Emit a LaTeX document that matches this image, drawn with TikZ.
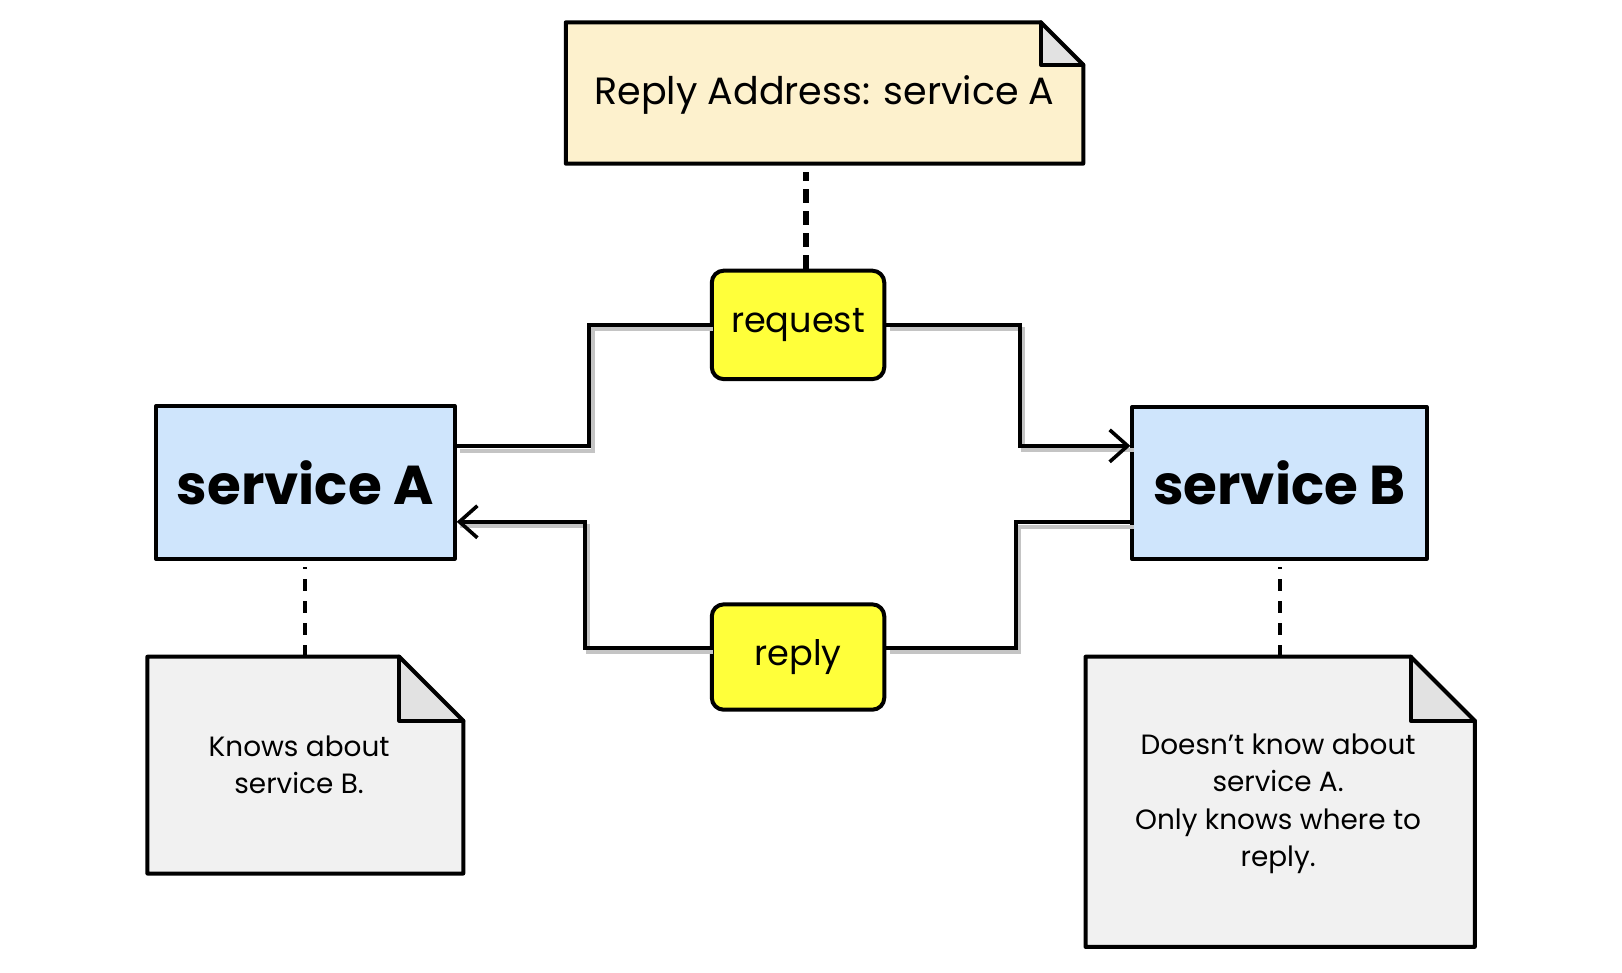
\documentclass[tikz,border=0pt]{standalone}
\usepackage{fontspec}
\setmainfont{Poppins}
\usetikzlibrary{arrows.meta,calc}
\definecolor{cream}{HTML}{FDF1CD}
\definecolor{skyfill}{HTML}{CFE5FC}
\definecolor{yel}{HTML}{FFFF3A}
\definecolor{notefill}{HTML}{F1F1F1}
\definecolor{foldfill}{HTML}{E2E2E2}
\definecolor{shadowgray}{HTML}{C4C4C4}
\tikzset{
  ink/.style={line width=2pt, draw=black, line join=round, line cap=round},
  notebox/.style={draw=none, inner sep=0pt, align=center},
  service/.style={ink, fill=skyfill, inner sep=0pt, font=\fontsize{26.5}{30}\selectfont\bfseries},
  msgbox/.style={ink, fill=yel, rounded corners=6pt, inner sep=0pt, minimum width=83.5pt, font=\fontsize{17}{19}\selectfont},
  wire/.style={line width=1.9pt, draw=black, line cap=round},
  shade/.style={line width=2pt, draw=shadowgray, transform canvas={xshift=1.8pt,yshift=-2.2pt}},
  tip/.style={-{Straight Barb[length=9pt,width=16pt,line width=1.8pt]}},
  linkdash/.style={line width=1.9pt, dash pattern=on 6pt off 5pt},
  topdash/.style={line width=3pt, dash pattern=on 7pt off 4pt}
}
\begin{document}
\begin{tikzpicture}[x=0.5pt,y=-0.5pt,scale=1.0331,every node/.append style={transform shape}]
\useasboundingbox (0,0) rectangle (1570.1,941.8);

% nodes
\node[notebox, minimum width=250pt, minimum height=68pt] (top) at (798,90) {};
\node[service, minimum width=144.5pt, minimum height=74pt] (sa) at (295.5,467) {service A};
\node[service, minimum width=142.5pt, minimum height=73.5pt] (sb) at (1238.5,467.5) {service B};
\node[msgbox, minimum height=52.5pt] (req) at (772.5,314.5) {request};
\node[msgbox, minimum height=51pt] (rep) at (772.5,636) {reply};
\node[notebox, minimum width=152.5pt, minimum height=104.5pt] (na) at (295.5,740.5) {};
\node[notebox, minimum width=188pt, minimum height=140pt] (nb) at (1239,776) {};

% note shapes
\foreach \n/\f/\c in {top/41/cream, na/62/notefill, nb/62/notefill}{
  \fill[\c] (\n.north west) -- ($(\n.north east)+(-\f,0)$) -- ($(\n.north east)+(0,\f)$) -- (\n.south east) -- (\n.south west) -- cycle;
  \fill[foldfill] ($(\n.north east)+(-\f,0)$) -- ($(\n.north east)+(-\f,\f)$) -- ($(\n.north east)+(0,\f)$) -- cycle;
  \draw[ink] (\n.north west) -- ($(\n.north east)+(-\f,0)$) -- ($(\n.north east)+(0,\f)$) -- (\n.south east) -- (\n.south west) -- cycle;
  \draw[ink] ($(\n.north east)+(-\f,0)$) -- ($(\n.north east)+(-\f,\f)$) -- ($(\n.north east)+(0,\f)$);
}
\node[font=\fontsize{18.4}{22}\selectfont] (toptext) at ($(top.center)+(0,2)$) {Reply Address: service A};
\node[align=center, font=\fontsize{13.5}{18}\selectfont] (natext) at ($(na.center)+(-6,0)$) {Knows about\\service B.};
\node[align=center, font=\fontsize{13.5}{18}\selectfont] (nbtext) at ($(nb.center)+(-2,2)$) {Doesn't know about\\service A.\\Only knows where to\\reply.};

% dashed links
\draw[topdash] ([xshift=3.75pt]req.north) -- ([xshift=3.75pt,yshift=-4pt]req.north |- top.south);
\draw[linkdash] (sa.south |- na.north) -- ([yshift=-3pt]sa.south);
\draw[linkdash] (sb.south |- nb.north) -- ([yshift=-3pt]sb.south);

% shadows
\draw[shade] ([yshift=17.5pt]sa.east) -- ++(128,0) |- (req.west);
\draw[shade] (req.east) -- ++(129,0) |- ([yshift=18pt]sb.west);
\draw[shade] ([yshift=-19pt]sb.west) -- ++(-111,0) |- ([yshift=4.5pt]rep.east);
\draw[shade] ([yshift=4.5pt]rep.west) -- ++(-121,0) |- ([yshift=-19pt]sa.east);

% connectors
\draw[wire] ([yshift=17.5pt]sa.east) -- ++(128,0) |- (req.west);
\draw[wire, tip] (req.east) -- ++(129,0) |- ([yshift=18pt]sb.west);
\draw[wire] ([yshift=-19pt]sb.west) -- ++(-111,0) |- ([yshift=4.5pt]rep.east);
\draw[wire, tip] ([yshift=4.5pt]rep.west) -- ++(-121,0) |- ([yshift=-19pt]sa.east);
\end{tikzpicture}
\end{document}
